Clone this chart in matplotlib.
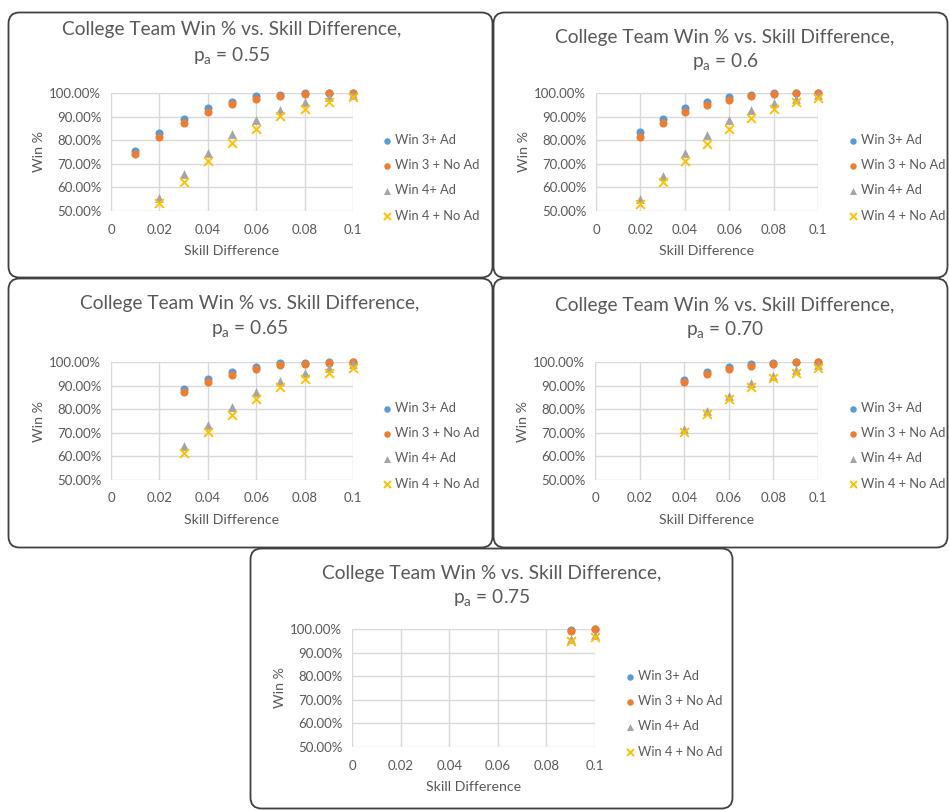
import matplotlib
matplotlib.use("Agg")
import matplotlib.pyplot as plt
from matplotlib.patches import FancyBboxPatch
from matplotlib.ticker import FuncFormatter, MultipleLocator

plt.rcParams['font.family'] = ['Lato', 'DejaVu Sans']
plt.rcParams['mathtext.fontset'] = 'custom'
plt.rcParams['mathtext.rm'] = 'Lato'
plt.rcParams['mathtext.it'] = 'Lato:italic'

# ---- data: win percentage by skill difference, one block per p_a ----
pa_labels = ["0.55", "0.6", "0.65", "0.70", "0.75"]

x_055_win3 = [0.01, 0.02, 0.03, 0.04, 0.05, 0.06, 0.07, 0.08, 0.09, 0.10]
x_055_win4 = [0.02, 0.03, 0.04, 0.05, 0.06, 0.07, 0.08, 0.09, 0.10]
win3_ad_055 = [75.4, 83.2, 89.1, 93.5, 96.2, 98.7, 99.3, 99.8, 100.0, 100.0]
win3_noad_055 = [74.1, 81.3, 87.4, 91.8, 95.3, 97.4, 98.9, 99.7, 99.9, 100.0]
win4_ad_055 = [55.3, 65.6, 74.7, 82.5, 88.5, 93.0, 96.0, 98.3, 99.3]
win4_noad_055 = [53.4, 62.1, 71.0, 79.0, 84.9, 90.1, 93.3, 96.0, 98.3]

x_060 = [0.02, 0.03, 0.04, 0.05, 0.06, 0.07, 0.08, 0.09, 0.10]
win3_ad_060 = [83.3, 89.1, 93.6, 96.2, 98.2, 99.3, 99.9, 100.0, 100.0]
win3_noad_060 = [81.3, 87.4, 91.8, 94.8, 96.9, 98.7, 99.6, 99.9, 100.0]
win4_ad_060 = [55.0, 64.9, 74.5, 82.2, 88.4, 92.6, 95.7, 97.6, 99.1]
win4_noad_060 = [52.9, 62.2, 71.2, 78.4, 84.9, 89.5, 93.2, 96.0, 98.0]

x_065 = [0.03, 0.04, 0.05, 0.06, 0.07, 0.08, 0.09, 0.10]
win3_ad_065 = [88.4, 92.9, 95.9, 98.0, 99.6, 99.7, 100.0, 100.0]
win3_noad_065 = [87.1, 91.5, 94.7, 97.2, 98.6, 99.3, 99.7, 99.9]
win4_ad_065 = [64.2, 73.2, 80.8, 87.4, 91.8, 95.3, 97.6, 99.0]
win4_noad_065 = [61.6, 70.5, 77.7, 84.4, 89.6, 92.9, 95.5, 97.6]

x_070 = [0.04, 0.05, 0.06, 0.07, 0.08, 0.09, 0.10]
win3_ad_070 = [92.2, 95.6, 97.9, 99.0, 99.6, 100.0, 100.0]
win3_noad_070 = [91.6, 95.0, 97.2, 98.3, 99.3, 99.9, 99.9]
win4_ad_070 = [71.4, 79.1, 85.7, 90.9, 94.2, 96.6, 98.6]
win4_noad_070 = [70.5, 78.0, 84.5, 89.3, 93.3, 95.5, 97.6]

x_075 = [0.09, 0.10]
win3_ad_075 = [99.7, 100.0]
win3_noad_075 = [99.3, 99.9]
win4_ad_075 = [95.8, 97.5]
win4_noad_075 = [94.9, 96.8]

series_names = ["Win 3+ Ad", "Win 3 + No Ad", "Win 4+ Ad", "Win 4 + No Ad"]
x_ticks = [0, 0.02, 0.04, 0.06, 0.08, 0.1]
x_tick_labels = ["0", "0.02", "0.04", "0.06", "0.08", "0.1"]

panels = [
    (x_055_win3, x_055_win3, x_055_win4, x_055_win4,
     win3_ad_055, win3_noad_055, win4_ad_055, win4_noad_055),
    (x_060, x_060, x_060, x_060,
     win3_ad_060, win3_noad_060, win4_ad_060, win4_noad_060),
    (x_065, x_065, x_065, x_065,
     win3_ad_065, win3_noad_065, win4_ad_065, win4_noad_065),
    (x_070, x_070, x_070, x_070,
     win3_ad_070, win3_noad_070, win4_ad_070, win4_noad_070),
    (x_075, x_075, x_075, x_075,
     win3_ad_075, win3_noad_075, win4_ad_075, win4_noad_075),
]

# ---- layout (pixel boxes: left, top, right, bottom) ----
W, H = 949, 811
frames = [(8, 12, 493, 278), (493, 12, 948, 278),
          (8, 278, 493, 548), (493, 278, 948, 548),
          (250, 548, 733, 809)]
plot_boxes = [(111, 93, 353, 211), (596, 93, 818, 211),
              (111, 362, 353, 480), (595, 362, 818, 480),
              (352, 629, 595, 747)]
title_xy = [(232, 30), (725, 37), (250, 303), (725, 305), (492, 573)]
legend_xy = [(381, 134), (847, 134), (381, 402), (847, 402), (624, 670)]

colors = ["#5B9BD5", "#ED7D31", "#A5A5A5", "#FFC000"]
markers = ["o", "o", "^", "x"]
sizes = [34, 34, 40, 40]
text_col = "#595959"
grid_col = "#D9D9D9"

fig = plt.figure(figsize=(W / 100, H / 100), dpi=100)
fig.patch.set_facecolor("white")

for (l, t, r, b) in frames:
    box = FancyBboxPatch((l + 0.5, H - b + 0.5), r - l - 1, b - t - 1,
                         boxstyle="round,pad=0,rounding_size=11",
                         transform=None, facecolor="none",
                         edgecolor="#404040", linewidth=1.3, zorder=0)
    fig.add_artist(box)

pct_fmt = FuncFormatter(lambda v, pos: f"{v:.2f}%")

for i, data in enumerate(panels):
    l, t, r, b = plot_boxes[i]
    ax = fig.add_axes([l / W, (H - b) / H, (r - l) / W, (b - t) / H])
    xs = data[:4]
    ys = data[4:]
    for k in range(4):
        ax.scatter(xs[k], ys[k], s=sizes[k], marker=markers[k],
                   color=colors[k], linewidths=1.4 if markers[k] == "x" else 0,
                   label=series_names[k], zorder=3 + k, clip_on=False)
    ax.set_xlim(0, 0.1)
    ax.set_ylim(50, 100)
    ax.set_xticks(x_ticks)
    ax.set_xticklabels(x_tick_labels)
    ax.yaxis.set_major_locator(MultipleLocator(10))
    ax.yaxis.set_major_formatter(pct_fmt)
    ax.grid(True, color=grid_col, linewidth=1.0, zorder=0)
    ax.set_axisbelow(True)
    for sp in ax.spines.values():
        sp.set_visible(False)
    ax.tick_params(axis="y", length=0, labelsize=9.5, labelcolor=text_col, pad=7)
    ax.tick_params(axis="x", length=0, labelsize=9.5, labelcolor=text_col, pad=9)
    ax.set_xlabel("Skill Difference", fontsize=10.2, color=text_col, labelpad=7)
    ax.set_ylabel("Win %", fontsize=10.2, color=text_col, labelpad=3)

    # centred two-line title
    cx, ty = title_xy[i]
    fig.text(cx / W, 1 - ty / H,
             "College Team Win % vs. Skill Difference,",
             ha="center", va="center", fontsize=13.8, color=text_col)
    fig.text(cx / W, 1 - (ty + 25) / H,
             r"p$_{\mathrm{a}}$ = " + pa_labels[i],
             ha="center", va="center", fontsize=13.8, color=text_col)

    lx, ly = legend_xy[i]
    leg = ax.legend(loc="upper left", bbox_to_anchor=(lx / W, 1 - ly / H),
                    bbox_transform=fig.transFigure, frameon=False,
                    fontsize=9.3, handletextpad=0.05, handlelength=1.0,
                    labelspacing=1.02, borderpad=0, borderaxespad=0,
                    scatterpoints=1, markerscale=0.8)
    for txt in leg.get_texts():
        txt.set_color(text_col)

fig.savefig("out.png", dpi=100, facecolor="white")
